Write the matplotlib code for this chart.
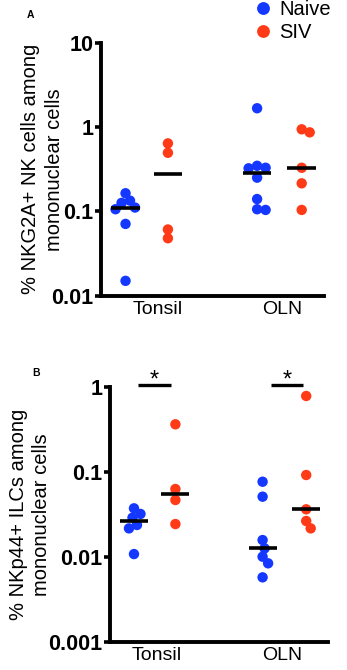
import numpy as np
import matplotlib
matplotlib.use("Agg")
import matplotlib.pyplot as plt
from matplotlib.lines import Line2D

plt.rcParams['font.family'] = ['Liberation Sans', 'DejaVu Sans']

# Panel A: % NKG2A+ NK cells among mononuclear cells
a_tonsil_naive = [0.164, 0.134, 0.126, 0.111, 0.106, 0.071, 0.015]
a_tonsil_siv = [0.64, 0.495, 0.061, 0.048]
a_oln_naive = [1.67, 0.347, 0.329, 0.324, 0.251, 0.140, 0.106, 0.104]
a_oln_siv = [0.94, 0.865, 0.329, 0.215, 0.104]

# Panel B: % NKp44+ ILCs among mononuclear cells
b_tonsil_naive = [0.0374, 0.0321, 0.029, 0.0238, 0.0217, 0.0108]
b_tonsil_siv = [0.366, 0.0632, 0.0469, 0.0244]
b_oln_naive = [0.077, 0.0513, 0.0158, 0.0126, 0.01005, 0.0084, 0.00574]
b_oln_siv = [0.79, 0.0924, 0.0364, 0.0265, 0.0217]

tissues = ['Tonsil', 'OLN']
a_ticks = [0.01, 0.1, 1, 10]
a_ticklabels = ['0.01', '0.1', '1', '10']
b_ticks = [0.001, 0.01, 0.1, 1]
b_ticklabels = ['0.001', '0.01', '0.1', '1']

BLUE = '#1438ff'
RED = '#ff3a17'
DOT = 8.5  # min distance between dot centres, px


def swarm_x(ax, x0, vals):
    # spread overlapping dots sideways (GraphPad style scatter)
    pts = ax.transData.transform(np.column_stack([np.full(len(vals), x0), vals]))
    xc = pts[0, 0]
    ys = pts[:, 1]
    xs = np.full(len(vals), xc)
    placed = []
    cands = [0.0]
    for k in range(1, 60):
        cands += [k * 0.5, -k * 0.5]
    for i in np.argsort(-ys):
        for c in cands:
            ok = all((xc + c - px) ** 2 + (ys[i] - py) ** 2 >= DOT ** 2 for px, py in placed)
            if ok:
                xs[i] = xc + c
                placed.append((xc + c, ys[i]))
                break
    inv = ax.transData.inverted()
    return inv.transform(np.column_stack([xs, ys]))[:, 0]


def panel(ax, series, ticks, ticklabels, ylim, tick_pos, ylabel, label_x):
    ax.set_yscale('log')
    ax.set_ylim(*ylim)
    ax.set_xlim(0, 5)
    pos = [0.55, 1.5, 3.5, 4.5]
    cols = [BLUE, RED, BLUE, RED]
    for x0, vals, c in zip(pos, series, cols):
        xs = swarm_x(ax, x0, vals)
        ax.scatter(xs, vals, s=56, color=c, edgecolors='none', zorder=3, clip_on=False)
        ax.hlines(np.median(vals), x0 - 0.32, x0 + 0.32, color='black', lw=2.6, zorder=4)
    ax.set_yticks(ticks)
    ax.set_yticklabels(ticklabels, fontweight='bold', fontsize=15.5)
    ax.yaxis.set_minor_locator(matplotlib.ticker.NullLocator())
    ax.set_xticks(tick_pos)
    ax.set_xticklabels(tissues, fontsize=14)
    ax.tick_params(axis='y', length=4, width=2.6, pad=1.5)
    ax.tick_params(axis='x', length=0, pad=4)
    for s in ['top', 'right']:
        ax.spines[s].set_visible(False)
    for s in ['left', 'bottom']:
        ax.spines[s].set_linewidth(2.8)
    ax.set_ylabel(ylabel, fontsize=14.5, linespacing=1.3)
    ax.yaxis.set_label_coords(label_x, 0.5)


fig = plt.figure(figsize=(3.47, 6.70), dpi=100)
axA = fig.add_axes([101 / 347, 1 - 295.7 / 670, 223 / 347, 253 / 670])
axB = fig.add_axes([110 / 347, 1 - 641.7 / 670, 218 / 347, 254.4 / 670])

panel(axA, [a_tonsil_naive, a_tonsil_siv, a_oln_naive, a_oln_siv],
      a_ticks, a_ticklabels, (0.01, 10), [1.27, 4.06],
      '% NKG2A+ NK cells among\nmononuclear cells', -0.166)
panel(axB, [b_tonsil_naive, b_tonsil_siv, b_oln_naive, b_oln_siv],
      b_ticks, b_ticklabels, (0.001, 1), [1.08, 3.94],
      '% NKp44+ ILCs among\nmononuclear cells', -0.27)

# significance bars in B
sig_y = 1.064
for x1, x2 in [(0.64, 1.40), (3.69, 4.43)]:
    axB.plot([x1, x2], [sig_y, sig_y], color='black', lw=2.4, clip_on=False,
             solid_capstyle='butt')
    axB.annotate('*', xy=((x1 + x2) / 2, sig_y), xytext=(0, -5),
                 textcoords='offset points', ha='center', va='bottom', fontsize=17,
                 annotation_clip=False)

# legend
handles = [Line2D([], [], marker='o', ls='none', color=BLUE, markersize=8.2),
           Line2D([], [], marker='o', ls='none', color=RED, markersize=8.2)]
fig.legend(handles, ['Naive', 'SIV'], loc='upper left',
           bbox_to_anchor=(255 / 347, 1 - 0 / 670), frameon=False, fontsize=14.5,
           handlelength=0.8, handletextpad=0.4, labelspacing=0.2, borderpad=0,
           borderaxespad=0)

fig.text(30 / 347, 1 - 15 / 670, 'A', fontweight='bold', fontsize=7.5, ha='center', va='center')
fig.text(36 / 347, 1 - 373.5 / 670, 'B', fontweight='bold', fontsize=7.5, ha='center', va='center')

fig.savefig('out.png', dpi=100)
